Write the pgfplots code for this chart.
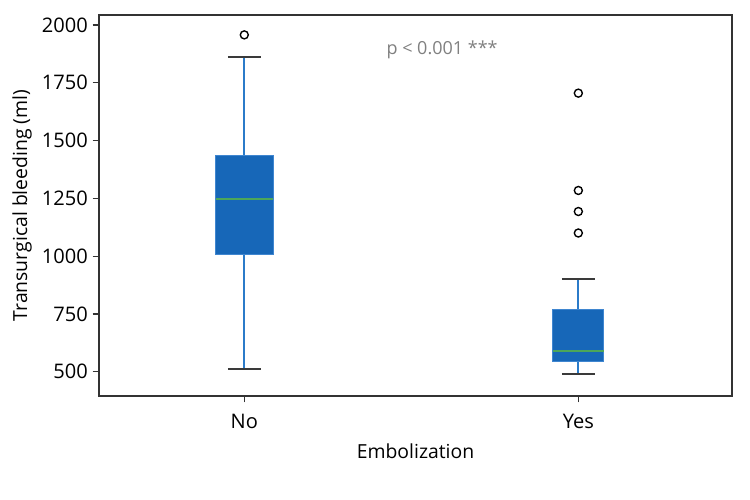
\documentclass[border=0pt]{standalone}
\usepackage{pgfplots}
\pgfplotsset{compat=1.18}
\usepackage{fontspec}
\setmainfont{Open Sans}
\definecolor{boxblue}{HTML}{1767B8}
\definecolor{boxedge}{HTML}{3F86D0}
\definecolor{whiskblue}{HTML}{2B7BC9}
\definecolor{capgray}{HTML}{3A3A3A}
\definecolor{medgreen}{HTML}{4CA65A}
\definecolor{spine}{HTML}{333333}
\begin{document}
\begin{tikzpicture}
\begin{axis}[
  at={(0,0)}, anchor=south west,
  scale only axis,
  width=455.76bp, height=274.32bp,
  xmin=0.565, xmax=2.46,
  ymin=395, ymax=2043,
  xtick={1,2}, xticklabels={No,Yes},
  ytick={500,750,1000,1250,1500,1750,2000},
  axis line style={spine, line width=0.9pt},
  tick style={spine, line width=0.9pt},
  tick align=outside,
  major tick length=4.5bp,
  xtick pos=bottom, ytick pos=left,
  /pgf/number format/assume math mode=true,
  /pgf/number format/1000 sep={},
  tick label style={font=\fontsize{14.5}{16}\selectfont},
  label style={font=\fontsize{14}{16}\selectfont},
  xticklabel style={yshift=-5bp},
  xlabel style={yshift=-4bp},
  ylabel style={yshift=0.5bp},
  xlabel={Embolization},
  ylabel={Transurgical bleeding (ml)},
  clip=false,
]
% whiskers
\addplot[whiskblue, line width=1.4bp, no markers] coordinates {(1,1434) (1,1863)};
\addplot[whiskblue, line width=1.4bp, no markers] coordinates {(1,513) (1,1006)};
\addplot[whiskblue, line width=1.4bp, no markers] coordinates {(2,768) (2,902)};
\addplot[whiskblue, line width=1.4bp, no markers] coordinates {(2,491) (2,543)};
% boxes
\addplot[fill=boxblue, draw=boxedge, line width=0.6bp, no markers] coordinates {(0.914,1006) (1.086,1006) (1.086,1434) (0.914,1434)} -- cycle;
\addplot[fill=boxblue, draw=boxedge, line width=0.6bp, no markers] coordinates {(1.9235,543) (2.0765,543) (2.0765,768) (1.9235,768)} -- cycle;
% medians
\addplot[medgreen, line width=1.3bp, no markers] coordinates {(0.914,1248) (1.086,1248)};
\addplot[medgreen, line width=1.3bp, no markers] coordinates {(1.9235,588) (2.0765,588)};
% caps
\addplot[capgray, line width=1.4bp, no markers] coordinates {(0.9505,1863) (1.0495,1863)};
\addplot[capgray, line width=1.4bp, no markers] coordinates {(0.9505,513) (1.0495,513)};
\addplot[capgray, line width=1.4bp, no markers] coordinates {(1.9505,902) (2.0495,902)};
\addplot[capgray, line width=1.4bp, no markers] coordinates {(1.9505,491) (2.0495,491)};
% outliers
\addplot[only marks, mark=o, mark size=2.9pt, mark options={draw=black, line width=1pt}] coordinates {(1,1957) (2,1705) (2,1284) (2,1193) (2,1100)};
\node[font=\fontsize{13}{15}\selectfont, text=gray] at (rel axis cs:0.542,0.909) {p < 0.001 ***};
\end{axis}
\path[use as bounding box] ([xshift=-71.28bp,yshift=-74.88bp]current axis.south west) rectangle ([xshift=12.96bp,yshift=10.8bp]current axis.north east);
\end{tikzpicture}
\end{document}
